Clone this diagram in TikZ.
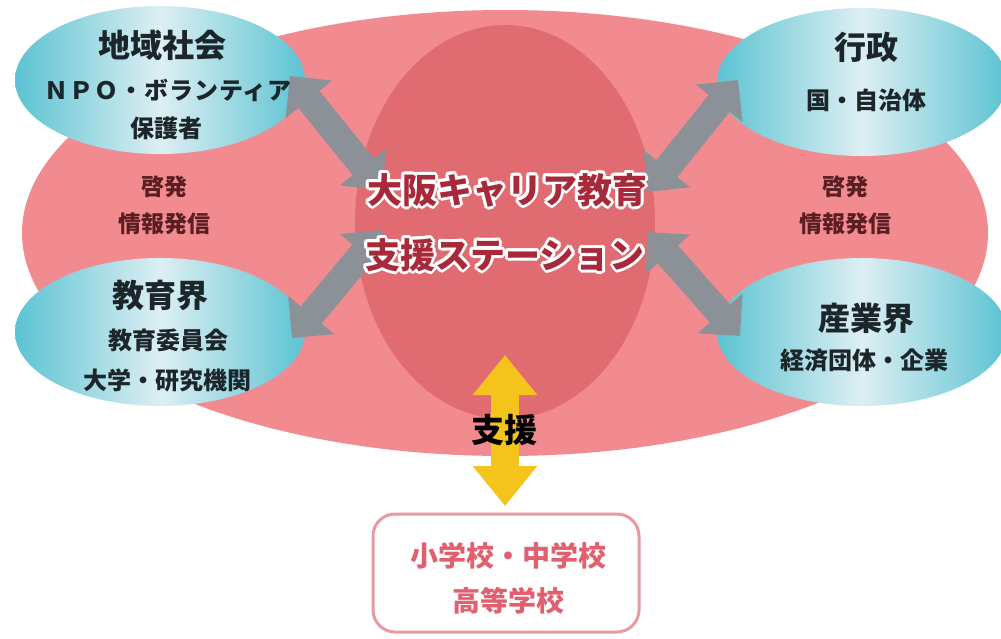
\documentclass[tikz,border=0pt]{standalone}
\usepackage{fontspec}
\newfontfamily\jp{Noto Sans CJK JP}
\usetikzlibrary{arrows.meta,shapes.geometric}
\definecolor{bigpink}{HTML}{F28B8F}
\definecolor{corepink}{HTML}{E06B71}
\definecolor{cyanedge}{HTML}{5CC3D2}
\definecolor{cyanmid}{HTML}{DDEFF3}
\definecolor{grayarr}{HTML}{8C9198}
\definecolor{yellowarr}{HTML}{F4C31C}
\definecolor{darktxt}{HTML}{1C2529}
\definecolor{browntxt}{HTML}{5A1E22}
\definecolor{titlered}{HTML}{A82A3A}
\definecolor{schoolpink}{HTML}{E0606F}
\definecolor{boxline}{HTML}{E89AA3}
\newcommand\glowtext[4]{% name, position (x,y without parens), style, text
  \foreach \ga in {0,30,...,359} {
    \node[#3, text=white] at ([shift={(\ga:3pt)}]#2) {#4};
  }
  \node[#3] (#1) at (#2) {#4};
}
\tikzset{
  blueell/.style={ellipse, inner sep=0pt, minimum width=290pt, minimum height=148pt,
    left color=cyanedge, right color=cyanedge, middle color=cyanmid},
  ttl/.style={font=\jp\bfseries\fontsize{32}{34}\selectfont, text=darktxt, inner sep=0pt},
  sub/.style={font=\jp\bfseries\fontsize{24}{26}\selectfont, text=darktxt, inner sep=0pt},
  keihatsu/.style={font=\jp\bfseries\fontsize{23}{25}\selectfont, text=browntxt, inner sep=0pt},
  centertxt/.style={font=\jp\bfseries\fontsize{35}{38}\selectfont, text=titlered, inner sep=0pt},
  schooltxt/.style={font=\jp\bfseries\fontsize{28}{30}\selectfont, text=schoolpink, inner sep=0pt},
  garrow/.style={draw=grayarr, line width=27pt, >={Triangle[width=58pt,length=30pt]}, <->},
  yarrow/.style={draw=yellowarr, line width=28pt, >={Triangle[width=62pt,length=40pt]}, <->},
}
\begin{document}
\begin{tikzpicture}[x=1pt,y=-1pt]
\useasboundingbox (0,0) rectangle (1001,638);
\fill[white] (0,0) rectangle (1001,638);
% big ellipse and core
\node[ellipse, fill=bigpink, inner sep=0pt, minimum width=966pt, minimum height=446pt] (big) at (505,233) {};
\node[ellipse, fill=corepink, inner sep=0pt, minimum width=300pt, minimum height=394pt] (core) at (505,222) {};
% blue ellipses
\node[blueell] (chiiki) at (160,80) {};
\node[blueell] (kyoiku) at (160,332) {};
\node[blueell] (gyosei) at (862,82) {};
\node[blueell] (sangyo) at (862,332) {};
% gray arrows
\coordinate (tlA) at (290,76);  \coordinate (tlB) at (382,190);
\coordinate (blA) at (292,338); \coordinate (blB) at (382,230);
\coordinate (trA) at (738,80);  \coordinate (trB) at (648,192);
\coordinate (brA) at (740,336); \coordinate (brB) at (648,232);
\draw[garrow] (tlA) -- (tlB);
\draw[garrow] (blA) -- (blB);
\draw[garrow] (trA) -- (trB);
\draw[garrow] (brA) -- (brB);
% bottom box
\node[draw=boxline, line width=3pt, rounded corners=22pt, fill=white, minimum width=266pt, minimum height=118pt] (school) at (506,573) {};
% yellow arrow
\coordinate (ytop) at (505,355);
\coordinate (ybot) at (505,506);
\draw[yarrow] (ytop) -- (ybot);
\node[font=\jp\bfseries\fontsize{33}{35}\selectfont, text=black, inner sep=0pt] (shien) at (504,430) {支援};
% texts in blue ellipses
\node[ttl] (t1) at (162,45) {地域社会};
\node[sub] (t1a) at (168,90) {\addfontfeature{LetterSpace=4}ＮＰＯ・ボランティア};
\node[sub] (t1b) at (166,128) {保護者};
\node[ttl] (t2) at (160,295) {教育界};
\node[sub] (t2a) at (168,340) {教育委員会};
\node[sub] (t2b) at (167,380) {大学・研究機関};
\node[ttl] (t3) at (866,47) {行政};
\node[sub] (t3a) at (866,100) {国・自治体};
\node[ttl] (t4) at (866,318) {産業界};
\node[sub] (t4a) at (864,360) {経済団体・企業};
% keihatsu
\node[keihatsu, align=center] (k1) at (164,205) {啓発\\[12pt]情報発信};
\node[keihatsu, align=center] (k2) at (845,205) {啓発\\[12pt]情報発信};
% center title
\glowtext{c1}{507,190}{centertxt}{大阪キャリア教育}
\glowtext{c2}{505,255}{centertxt}{支援ステーション}
% school text
\glowtext{s1}{508,556}{schooltxt}{小学校・中学校}
\glowtext{s2}{508,601}{schooltxt}{高等学校}
\end{tikzpicture}
\end{document}
